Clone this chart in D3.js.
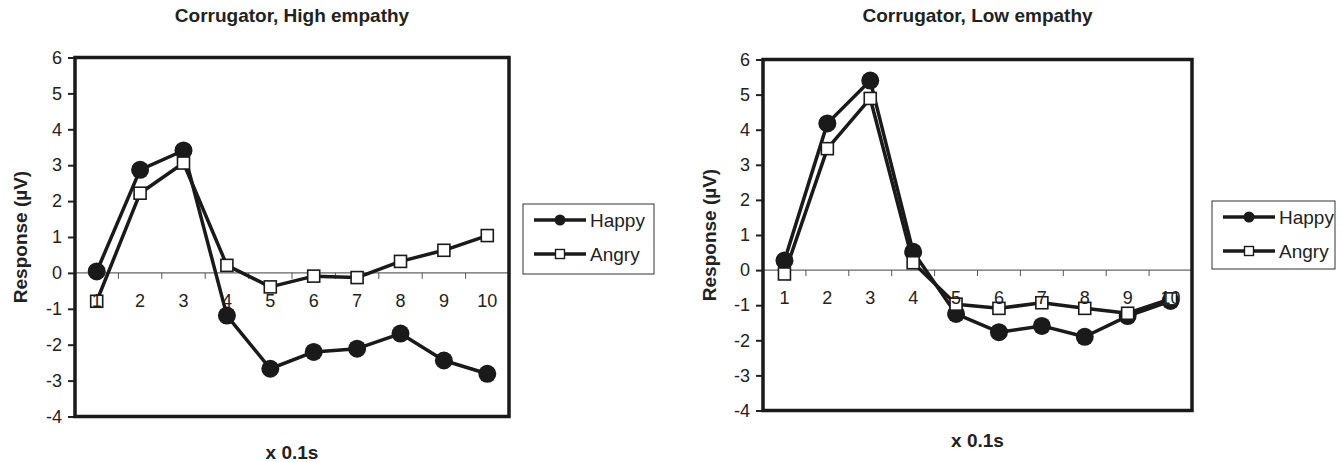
<!DOCTYPE html>
<html>
<head>
<meta charset="utf-8">
<script src="https://cdn.jsdelivr.net/npm/d3@7"></script>
<style>
  body { margin: 0; background: #fff; }
  svg { display: block; font-family: "Liberation Sans", Arial, sans-serif; }
</style>
</head>
<body>
<svg id="chart" width="1341" height="462"></svg>
<script>
// data
var categories = ["1","2","3","4","5","6","7","8","9","10"];
var yTicks = [-4,-3,-2,-1,0,1,2,3,4,5,6];
var seriesNames = ["Happy","Angry"];
var titles = ["Corrugator, High empathy","Corrugator, Low empathy"];

var highHappy = [0.04, 2.87, 3.41, -1.19, -2.67, -2.20, -2.11, -1.69, -2.44, -2.81];
var highAngry = [-0.79, 2.22, 3.06, 0.21, -0.39, -0.09, -0.13, 0.32, 0.63, 1.04];
var lowHappy  = [0.27, 4.18, 5.40, 0.52, -1.25, -1.77, -1.59, -1.90, -1.31, -0.88];
var lowAngry  = [-0.11, 3.46, 4.89, 0.21, -0.97, -1.09, -0.93, -1.09, -1.23, -0.82];

var svg = d3.select("#chart");

// layout for the two panels
var panels = [
  {title: titles[0], happy: highHappy, angry: highAngry,
   left: 75, right: 509, top: 57.5, bottom: 416.5,
   yLabelX: 20, xLabelY: 459,
   legend: {x: 523, y: 204, w: 131, h: 70}},
  {title: titles[1], happy: lowHappy, angry: lowAngry,
   left: 763, right: 1192, top: 59.5, bottom: 410.5,
   yLabelX: 709, xLabelY: 447,
   legend: {x: 1212, y: 201, w: 123, h: 68}}
];

function drawPanel(p){
  var g = svg.append("g");
  var x = d3.scaleBand().domain(categories).range([p.left, p.right]).padding(0);
  var y = d3.scaleLinear().domain([-4, 6]).range([p.bottom, p.top]);
  var cx = (p.left + p.right)/2;

  // title
  g.append("text")
    .attr("x", cx).attr("y", 22)
    .attr("text-anchor","middle")
    .style("font-size","19px").style("font-weight","bold").attr("fill","#222")
    .text(p.title);

  // zero line
  g.append("line")
    .attr("x1", p.left).attr("x2", p.right)
    .attr("y1", y(0)).attr("y2", y(0))
    .attr("stroke","#666").attr("stroke-width",1.2);

  // category boundary ticks
  g.selectAll(".ctick").data(categories.slice(1))
    .enter().append("line")
    .attr("x1", function(d){ return x(d); })
    .attr("x2", function(d){ return x(d); })
    .attr("y1", y(0)).attr("y2", y(0) + 6)
    .attr("stroke","#555").attr("stroke-width",1);

  // y axis (plain hyphen for negatives, like the original)
  var yAxis = d3.axisLeft(y).tickValues(yTicks).tickSize(7).tickPadding(6)
    .tickFormat(function(d){ return String(d); });
  var ya = g.append("g").attr("transform","translate(" + p.left + ",0)").call(yAxis);
  ya.select(".domain").remove();
  ya.selectAll("line").attr("stroke","#222").attr("stroke-width",2);
  ya.selectAll("text").style("font-size","18px").attr("fill","#222")
    .attr("font-family","Liberation Sans, Arial, sans-serif");

  var line = d3.line()
    .x(function(d,i){ return x(categories[i]) + x.bandwidth()/2; })
    .y(function(d){ return y(d); });

  // happy series
  g.append("path").datum(p.happy)
    .attr("d", line).attr("fill","none")
    .attr("stroke","#1a1a1a").attr("stroke-width",3.5).attr("stroke-linejoin","round");
  g.selectAll(".hp").data(p.happy).enter().append("circle")
    .attr("cx", function(d,i){ return x(categories[i]) + x.bandwidth()/2; })
    .attr("cy", function(d){ return y(d); })
    .attr("r", 9).attr("fill","#1a1a1a");

  // angry series
  g.append("path").datum(p.angry)
    .attr("d", line).attr("fill","none")
    .attr("stroke","#1a1a1a").attr("stroke-width",3.5).attr("stroke-linejoin","round");
  g.selectAll(".an").data(p.angry).enter().append("rect")
    .attr("x", function(d,i){ return x(categories[i]) + x.bandwidth()/2 - 6; })
    .attr("y", function(d){ return y(d) - 6; })
    .attr("width", 12).attr("height", 12)
    .attr("fill","#fff").attr("stroke","#1a1a1a").attr("stroke-width",1.6);

  // category labels
  g.selectAll(".clab").data(categories).enter().append("text")
    .attr("x", function(d){ return x(d) + x.bandwidth()/2; })
    .attr("y", y(0) + 34)
    .attr("text-anchor","middle")
    .style("font-size","18px").attr("fill","#222")
    .text(function(d){ return d; });

  // plot frame
  g.append("rect")
    .attr("x", p.left).attr("y", p.top)
    .attr("width", p.right - p.left).attr("height", p.bottom - p.top)
    .attr("fill","none").attr("stroke","#1a1a1a").attr("stroke-width",3.5);

  // axis titles
  g.append("text")
    .attr("transform","translate(" + p.yLabelX + "," + ((p.top + p.bottom)/2) + ") rotate(-90)")
    .attr("text-anchor","middle").attr("dy","0.35em")
    .style("font-size","19px").style("font-weight","bold").attr("fill","#222")
    .text("Response (\u00b5V)");
  g.append("text")
    .attr("x", cx).attr("y", p.xLabelY)
    .attr("text-anchor","middle")
    .style("font-size","19px").style("font-weight","bold").attr("fill","#222")
    .text("x 0.1s");

  // legend
  var L = p.legend;
  var lg = g.append("g");
  lg.append("rect").attr("x", L.x).attr("y", L.y).attr("width", L.w).attr("height", L.h)
    .attr("fill","#fff").attr("stroke","#333").attr("stroke-width",1);
  seriesNames.forEach(function(name, i){
    var ry = L.y + 16 + i*34;
    var x0 = L.x + 11, x1 = L.x + 63, mx = (x0 + x1)/2;
    lg.append("line").attr("x1", x0).attr("x2", x1).attr("y1", ry).attr("y2", ry)
      .attr("stroke","#1a1a1a").attr("stroke-width",3.5);
    if (i === 0) {
      lg.append("circle").attr("cx", mx).attr("cy", ry).attr("r", 5.5).attr("fill","#1a1a1a");
    } else {
      lg.append("rect").attr("x", mx - 4.5).attr("y", ry - 4.5).attr("width", 9).attr("height", 9)
        .attr("fill","#fff").attr("stroke","#1a1a1a").attr("stroke-width",1.4);
    }
    lg.append("text").attr("x", x1 + 4).attr("y", ry).attr("dy","0.35em")
      .style("font-size","19px").attr("fill","#222").text(name);
  });
}

panels.forEach(drawPanel);
</script>
</body>
</html>
